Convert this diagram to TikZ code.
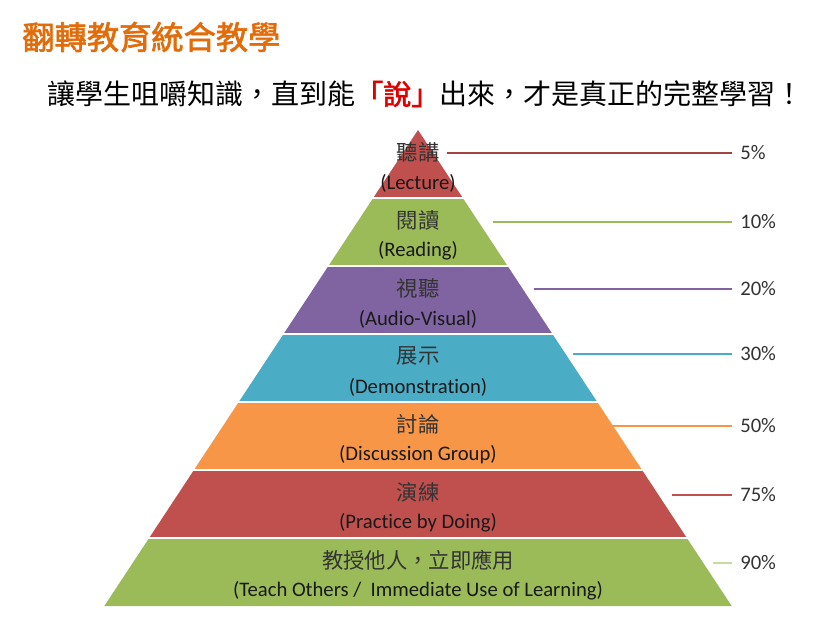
\documentclass[tikz,border=0pt]{standalone}
\usepackage{fontspec}
\setmainfont[Ligatures=CommonOff]{Carlito}
\newfontfamily\cjk{Noto Sans CJK TC}
\newfontfamily\cjkbold[FakeBold=2]{Noto Sans CJK TC}
\usepackage{xcolor}
\usepackage{tikz}

\definecolor{bandred}{HTML}{C0504D}
\definecolor{bandgreen}{HTML}{9BBB59}
\definecolor{bandpurple}{HTML}{8064A2}
\definecolor{bandcyan}{HTML}{4BACC6}
\definecolor{bandorange}{HTML}{F79646}
\definecolor{titleorange}{HTML}{E36C0A}
\definecolor{sayred}{HTML}{E00000}

\tikzset{
  zhlabel/.style={font=\cjk\fontsize{16}{18}\selectfont, text=black!80},
  enlabel/.style={font=\fontsize{15.5}{18}\selectfont, text=black!90},
  pct/.style={anchor=west, inner xsep=6pt, font=\fontsize{15.5}{18}\selectfont, text=black!80},
}

\begin{document}
\begin{tikzpicture}[x=0.75pt,y=-0.75pt]
  \fill[white] (0,0) rectangle (839,629);
  \useasboundingbox (0,0) rectangle (839,629);
  \node[anchor=west, inner sep=0, text=titleorange,
        font=\cjkbold\fontsize{24.2}{28}\selectfont] (title) at (22,37) {翻轉教育統合教學};
  \node[anchor=west, inner sep=0, font=\cjk\fontsize{21}{24}\selectfont] (motto) at (47,94)
    {讓學生咀嚼知識，直到能{\color{sayred}\cjkbold 「說」}出來，才是真正的完整學習！};
  % bands, top to bottom
  \foreach \i/\col in {0/bandred,1/bandgreen,2/bandpurple,3/bandcyan,4/bandorange,5/bandred,6/bandgreen} {
    \pgfmathsetmacro{\yt}{130+68*\i}
    \pgfmathsetmacro{\yb}{\yt+68}
    \pgfmathsetmacro{\wt}{0.659*(\yt-130)}
    \pgfmathsetmacro{\wb}{0.659*(\yb-130)}
    \fill[\col] (418-\wt,\yt) -- (418+\wt,\yt) -- (418+\wb,\yb) -- (418-\wb,\yb) -- cycle;
  }
  \foreach \i in {1,...,6} {
    \draw[white, line width=2pt] (90,130+68*\i) -- (750,130+68*\i);
  }
  \foreach \i/\zh/\en in {0/聽講/(Lecture), 1/閱讀/(Reading), 2/視聽/(Audio-Visual),
      3/展示/(Demonstration), 4/討論/(Discussion Group), 5/演練/(Practice by Doing),
      6/{教授他人，立即應用}/{(Teach Others /~ Immediate Use of Learning)}} {
    \node[zhlabel] (zh\i) at (418,152+68*\i) {\zh};
    \node[enlabel] (en\i) at (418,183+68*\i) {\en};
  }
  % retention rates
  \foreach \i/\x/\y/\p/\col in {0/447/153/5/bandred!85!black, 1/493/222/10/bandgreen,
      2/534/289/20/bandpurple, 3/573/354/30/bandcyan, 4/612/426/50/bandorange,
      5/672/495/75/bandred, 6/713/563/90/bandgreen!55} {
    \coordinate (tick\i) at (\x,\y);
    \node[pct] (pct\i) at (732,\y) {\p\%};
    \draw[\col, line width=0.8pt] (tick\i) -- (pct\i.west);
  }
\end{tikzpicture}
\end{document}
